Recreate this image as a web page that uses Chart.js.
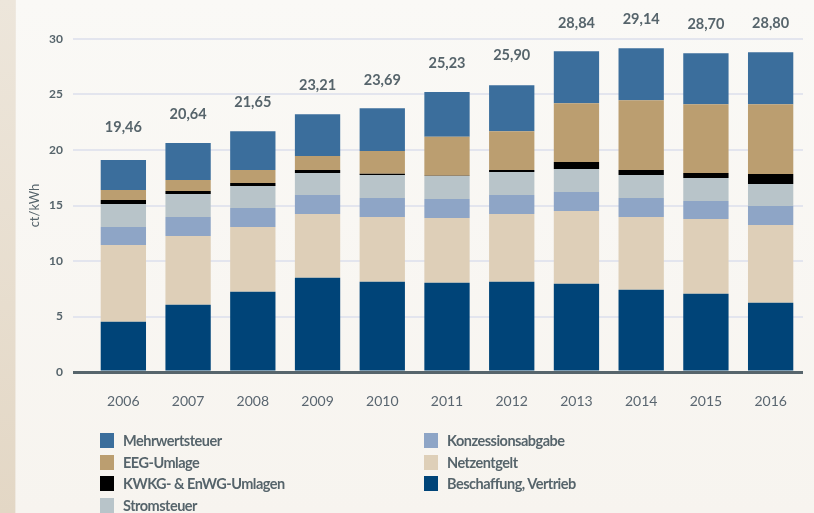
<!DOCTYPE html>
<html>
<head>
<meta charset="utf-8">
<script src="https://cdn.jsdelivr.net/npm/chart.js@4/dist/chart.umd.min.js"></script>
<style>
  html, body { margin:0; padding:0; }
  body { width:814px; height:513px; overflow:hidden; position:relative;
         background: linear-gradient(to bottom, #faf9f6 0%, #f7f4ef 100%); font-family: Lato, "Open Sans", sans-serif; }
  #strip { position:absolute; left:0; top:0; width:15px; height:513px;
           background: linear-gradient(to bottom, #ede6db 0%, #e3d7c5 100%); border-right:1px solid #efe9e0; }
  #wrap { position:absolute; left:0; top:0; width:814px; height:513px; }
  .lg { position:absolute; display:flex; align-items:center; font-weight:700; font-size:14.5px; color:#56646b; letter-spacing:-0.5px; }
  .lg span.sw { display:inline-block; width:14px; height:15px; margin-right:9px; }
</style>
</head>
<body>
<div id="strip"></div>
<div id="wrap"><canvas id="c" width="814" height="513"></canvas></div>
<div id="legend"></div>
<script>
const years = ['2006','2007','2008','2009','2010','2011','2012','2013','2014','2015','2016'];
const totals = [19.46, 20.64, 21.65, 23.21, 23.69, 25.23, 25.90, 28.84, 29.14, 28.70, 28.80];
const yTicks = [0, 5, 10, 15, 20, 25, 30];

const beschaffung = [4.52, 6.05, 7.22, 8.48, 8.12, 8.03, 8.12, 7.94, 7.40, 7.04, 6.23];
const netzentgelt = [6.93, 6.21, 5.85, 5.76, 5.85, 5.85, 6.12, 6.56, 6.57, 6.75, 7.02];
const konzession  = [1.62, 1.71, 1.71, 1.71, 1.71, 1.71, 1.71, 1.71, 1.71, 1.62, 1.71];
const stromsteuer = [2.07, 2.07, 1.98, 1.97, 2.07, 2.07, 2.06, 2.07, 2.07, 2.07, 1.98];
const kwkg        = [0.36, 0.27, 0.27, 0.28, 0.11, 0.03, 0.18, 0.63, 0.45, 0.45, 0.90];
const eeg         = [0.90, 0.99, 1.17, 1.26, 2.04, 3.50, 3.50, 5.31, 6.29, 6.20, 6.29];
const mwst        = [2.70, 3.32, 3.50, 3.77, 3.87, 4.04, 4.14, 4.68, 4.68, 4.59, 4.67];

const TXT = '#56646b';
const series = [
  {label:'Beschaffung, Vertrieb', data:beschaffung, color:'#004478'},
  {label:'Netzentgelt', data:netzentgelt, color:'#decfb8'},
  {label:'Konzessionsabgabe', data:konzession, color:'#8ea5c6'},
  {label:'Stromsteuer', data:stromsteuer, color:'#b8c4c9'},
  {label:'KWKG- & EnWG-Umlagen', data:kwkg, color:'#000000'},
  {label:'EEG-Umlage', data:eeg, color:'#bb9e70'},
  {label:'Mehrwertsteuer', data:mwst, color:'#3b6e9c'}
];

const totalLabels = {
  id:'totalLabels',
  afterDatasetsDraw(chart){
    const ctx = chart.ctx, xs = chart.scales.x, ys = chart.scales.y;
    ctx.save();
    ctx.font = '700 14.5px Lato, "Open Sans", sans-serif';
    ctx.fillStyle = TXT;
    ctx.textAlign = 'center';
    ctx.textBaseline = 'middle';
    totals.forEach((t,i)=>{
      ctx.fillText(t.toFixed(2).replace('.', ','), xs.getPixelForValue(i), ys.getPixelForValue(t) - 29);
    });
    ctx.restore();
  }
};

new Chart(document.getElementById('c'), {
  type:'bar',
  data:{
    labels: years,
    datasets: series.map(s=>({label:s.label, data:s.data, backgroundColor:s.color, borderWidth:0,
      barPercentage:0.7, categoryPercentage:1.0}))
  },
  options:{
    responsive:false,
    animation:false,
    events:[],
    layout:{padding:{left:0, right:11, top:39, bottom:0}},
    plugins:{legend:{display:false}, tooltip:{enabled:false}},
    scales:{
      x:{
        stacked:true,
        grid:{display:false},
        border:{display:false},
        ticks:{color:'#5a6670', font:{family:'Lato, "Open Sans", sans-serif', size:14}, padding:13},
        afterFit(s){ s.height = 141; }
      },
      y:{
        stacked:true,
        min:0, max:30,
        afterBuildTicks(s){ s.ticks = yTicks.map(v=>({value:v})); },
        afterFit(s){ s.width = 91; },
        border:{display:false},
        grid:{
          color:(c)=> c.tick && c.tick.value===0 ? '#57656c' : '#e3e5ee',
          lineWidth:(c)=> c.tick && c.tick.value===0 ? 3 : 2,
          drawTicks:true, tickLength:18
        },
        ticks:{color:TXT, font:{family:'Lato, "Open Sans", sans-serif', size:12, weight:'700'}, padding:10},
        title:{display:true, text:'ct/kWh', color:TXT, font:{family:'Lato, "Open Sans", sans-serif', size:13}, padding:{top:27, bottom:0}}
      }
    }
  },
  plugins:[totalLabels]
});

// legend (column-major as in the reference)
const legendCols = [
  [6,5,4,3],
  [2,1,0]
];
const colX = [100, 424];
const rowY = [433, 454.5, 476, 497.5];
const lg = document.getElementById('legend');
legendCols.forEach((col,ci)=>{
  col.forEach((si,ri)=>{
    const d = document.createElement('div');
    d.className = 'lg';
    d.style.left = colX[ci]+'px';
    d.style.top = rowY[ri]+'px';
    d.style.height = '15px';
    const sw = document.createElement('span');
    sw.className='sw'; sw.style.background = series[si].color;
    d.appendChild(sw);
    d.appendChild(document.createTextNode(series[si].label));
    lg.appendChild(d);
  });
});
</script>
</body>
</html>
